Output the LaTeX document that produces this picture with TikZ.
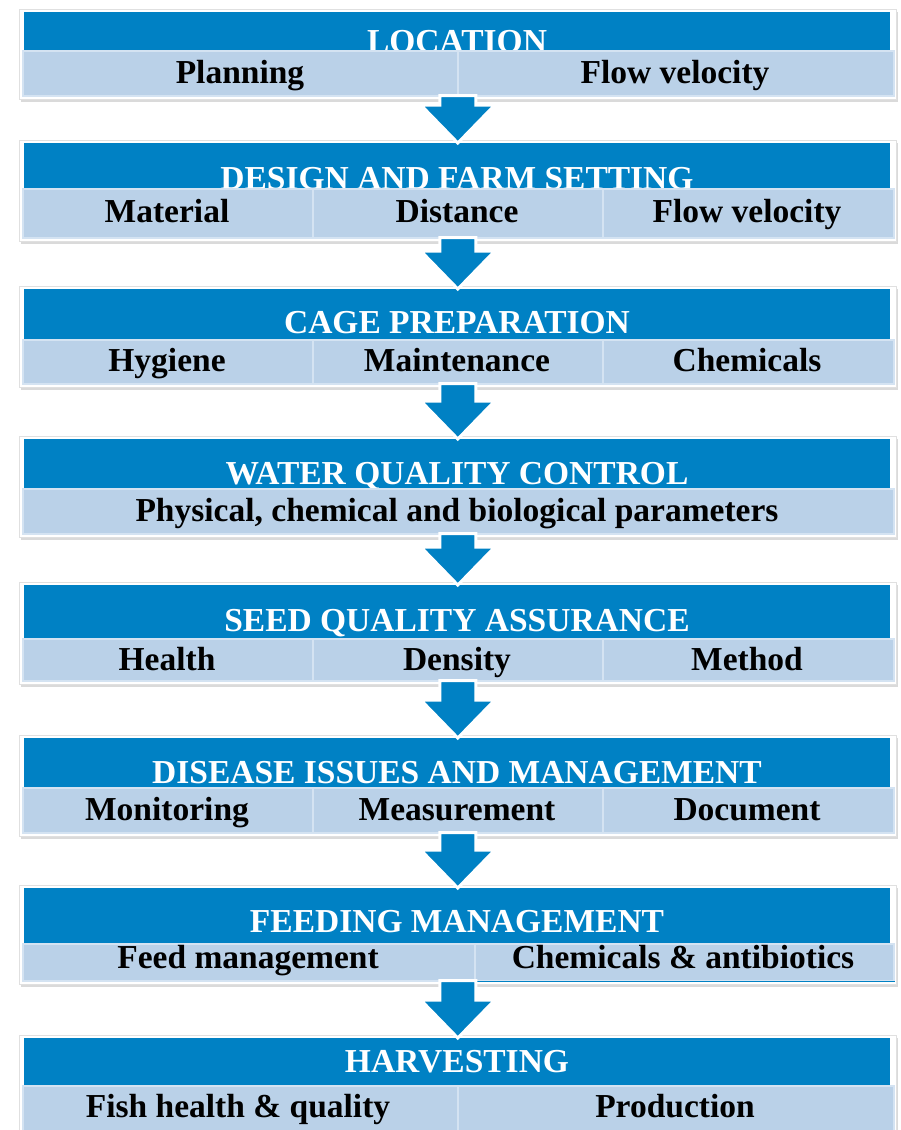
\documentclass[tikz,border=0pt]{standalone}
\usepackage{fontspec}
\setmainfont{Liberation Serif}
\usetikzlibrary{calc,shadows}
\definecolor{hdrblue}{RGB}{0,129,196}
\definecolor{rowblue}{RGB}{186,209,232}
\definecolor{rowedge}{RGB}{212,227,242}
\definecolor{shadegray}{RGB}{150,150,150}
\tikzset{
  framebox/.style={fill=white, draw=black!12, line width=0.6pt, inner sep=0pt,
    drop shadow={shadow xshift=1.5pt, shadow yshift=-2.5pt, opacity=0.35, fill=shadegray}},
  hdrbox/.style={fill=hdrblue, draw=none, inner sep=0pt},
  hdrtext/.style={text=white, font=\fontsize{33.5}{36}\selectfont\bfseries, inner sep=0pt, anchor=base},
  cellbox/.style={fill=rowblue, draw=rowedge, line width=1.6pt, inner sep=0pt, anchor=north west},
  celltext/.style={text=black, font=\fontsize{33.5}{36}\selectfont\bfseries, inner sep=0pt, anchor=base},
  flowarrow/.style={fill=hdrblue, draw=white, line width=3pt, line join=miter},
}
% #1 name, #2 header top, #3 row top, #4 row bottom
\newcommand\stageframe[4]{%
  \node[framebox, minimum width=877pt, minimum height={#4-#2+7pt}, anchor=north west] (f#1) at (19,#2-3) {};
  \node[hdrbox, minimum width=866pt, minimum height={#3-#2}, anchor=north west] (h#1) at (24,#2) {};
}
% arrow from the frame of one stage to the header of the next
\newcommand\stagearrow[2]{%
  \draw[flowarrow] let \p1=(f#1.south), \p2=(h#2.north) in
    (\x1-18pt,\y1+4pt) -- (\x1+18pt,\y1+4pt) -- (\x1+18pt,\y2+38pt) --
    (\x1+37pt,\y2+38pt) -- (\x1,\y2) -- (\x1-37pt,\y2+38pt) --
    (\x1-18pt,\y2+38pt) -- cycle;
}
\begin{document}
\begin{tikzpicture}[x=1pt,y=-1pt]
\useasboundingbox (0,0) rectangle (900,1130);

% ---- LOCATION
\stageframe{1}{12}{50}{95}
\node[hdrtext] (t1) at (457,52) {LOCATION};
\node[cellbox, minimum width=435pt, minimum height=45pt] (c1a) at (22,50) {};
\node[cellbox, minimum width=436pt, minimum height=45pt] (c1b) at (457,50) {};
\node[celltext] (s1a) at (240,83) {Planning};
\node[celltext] (s1b) at (675,83) {Flow velocity};

% ---- DESIGN AND FARM SETTING
\stageframe{2}{143}{188}{237}
\node[hdrtext] (t2) at (457,189) {DESIGN AND FARM SETTING};
\node[cellbox, minimum width=290pt, minimum height=49pt] (c2a) at (22,188) {};
\node[cellbox, minimum width=290pt, minimum height=49pt] (c2b) at (312,188) {};
\node[cellbox, minimum width=291pt, minimum height=49pt] (c2c) at (602,188) {};
\node[celltext] (s2a) at (167,222) {Material};
\node[celltext] (s2b) at (457,222) {Distance};
\node[celltext] (s2c) at (747,222) {Flow velocity};

% ---- CAGE PREPARATION
\stageframe{3}{289}{339}{383}
\node[hdrtext] (t3) at (457,333) {CAGE PREPARATION};
\node[cellbox, minimum width=290pt, minimum height=44pt] (c3a) at (22,339) {};
\node[cellbox, minimum width=290pt, minimum height=44pt] (c3b) at (312,339) {};
\node[cellbox, minimum width=291pt, minimum height=44pt] (c3c) at (602,339) {};
\node[celltext] (s3a) at (167,371) {Hygiene};
\node[celltext] (s3b) at (457,371) {Maintenance};
\node[celltext] (s3c) at (747,371) {Chemicals};

% ---- WATER QUALITY CONTROL
\stageframe{4}{439}{488}{533}
\node[hdrtext] (t4) at (457,484) {WATER QUALITY CONTROL};
\node[cellbox, minimum width=871pt, minimum height=45pt] (c4a) at (22,488) {};
\node[celltext] (s4a) at (457,521) {Physical, chemical and biological parameters};

% ---- SEED QUALITY ASSURANCE
\stageframe{5}{585}{638}{680}
\node[hdrtext] (t5) at (457,631) {SEED QUALITY ASSURANCE};
\node[cellbox, minimum width=290pt, minimum height=42pt] (c5a) at (22,638) {};
\node[cellbox, minimum width=290pt, minimum height=42pt] (c5b) at (312,638) {};
\node[cellbox, minimum width=291pt, minimum height=42pt] (c5c) at (602,638) {};
\node[celltext] (s5a) at (167,670) {Health};
\node[celltext] (s5b) at (457,670) {Density};
\node[celltext] (s5c) at (747,670) {Method};

% ---- DISEASE ISSUES AND MANAGEMENT
\stageframe{6}{738}{787}{832}
\node[hdrtext] (t6) at (457,783) {DISEASE ISSUES AND MANAGEMENT};
\node[cellbox, minimum width=290pt, minimum height=45pt] (c6a) at (22,787) {};
\node[cellbox, minimum width=290pt, minimum height=45pt] (c6b) at (312,787) {};
\node[cellbox, minimum width=291pt, minimum height=45pt] (c6c) at (602,787) {};
\node[celltext] (s6a) at (167,820) {Monitoring};
\node[celltext] (s6b) at (457,820) {Measurement};
\node[celltext] (s6c) at (747,820) {Document};

% ---- FEEDING MANAGEMENT
\stageframe{7}{888}{943}{980}
\node[hdrtext] (t7) at (457,932) {FEEDING MANAGEMENT};
\node[cellbox, minimum width=452pt, minimum height=37pt] (c7a) at (22,943) {};
\node[cellbox, minimum width=419pt, minimum height=37pt] (c7b) at (474,943) {};
\draw[hdrblue, line width=1.2pt] (c7b.south west) -- (c7b.south east);
\node[celltext] (s7a) at (248,968) {Feed management};
\node[celltext] (s7b) at (683,968) {Chemicals \& antibiotics};

% ---- HARVESTING
\stageframe{8}{1038}{1085}{1140}
\node[hdrtext] (t8) at (457,1072) {HARVESTING};
\node[cellbox, minimum width=435pt, minimum height=55pt] (c8a) at (22,1085) {};
\node[cellbox, minimum width=436pt, minimum height=55pt] (c8b) at (457,1085) {};
\node[celltext] (s8a) at (238,1117) {Fish health \& quality};
\node[celltext] (s8b) at (675,1117) {Production};

% ---- arrows between stages
\stagearrow{1}{2}
\stagearrow{2}{3}
\stagearrow{3}{4}
\stagearrow{4}{5}
\stagearrow{5}{6}
\stagearrow{6}{7}
\stagearrow{7}{8}
\end{tikzpicture}
\end{document}
